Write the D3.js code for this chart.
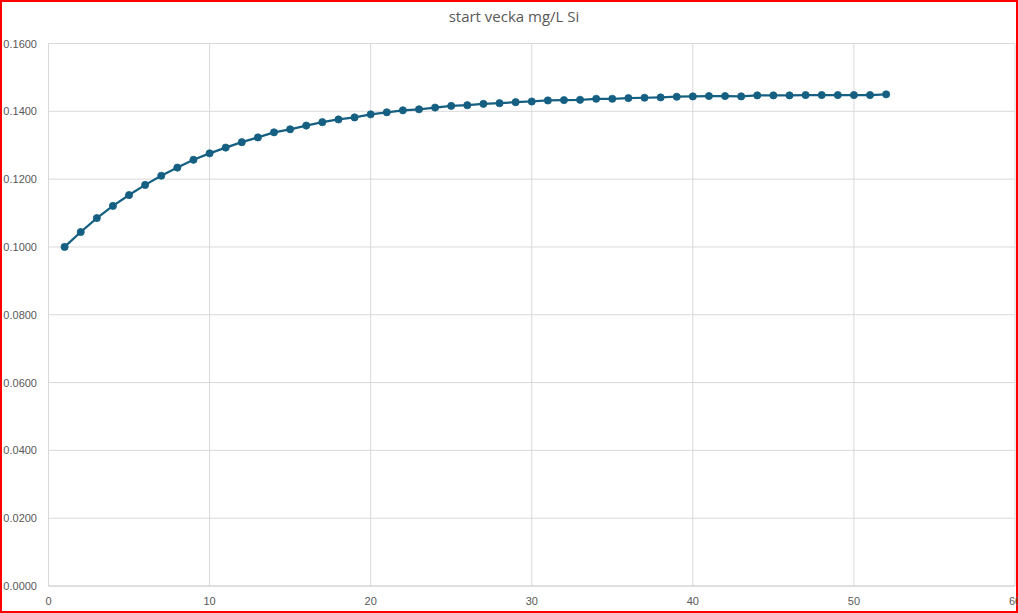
<!DOCTYPE html>
<html><head><meta charset="utf-8">
<script src="https://cdn.jsdelivr.net/npm/d3@7"></script>
<style>body{margin:0;background:#fff;}svg{display:block;font-family:"Liberation Sans Narrow","Liberation Sans",Arial,sans-serif;}</style>
</head><body>
<script>
const title = "start vecka mg/L Si";
const weeks = d3.range(1, 53);
const values = [0.1000,0.1044,0.1085,0.1121,0.1153,0.1183,0.1210,0.1234,0.1257,0.1276,
0.1293,0.1309,0.1323,0.1338,0.1347,0.1358,0.1368,0.1376,0.1382,0.1391,
0.1397,0.1403,0.1406,0.1411,0.1416,0.1418,0.1422,0.1424,0.1427,0.1429,
0.1432,0.1433,0.1434,0.1437,0.1437,0.1439,0.1440,0.1441,0.1443,0.1444,
0.1445,0.1445,0.1444,0.1447,0.1447,0.1447,0.1448,0.1448,0.1448,0.1448,0.1448,0.1450];
const xTicks = [0,10,20,30,40,50,60];
const yTicks = [0,0.02,0.04,0.06,0.08,0.10,0.12,0.14,0.16];

const W = 1018, H = 613;
const m = {l:48.5, r:1015, t:43.5, b:586};
const svg = d3.select("body").append("svg").attr("width",W).attr("height",H);
svg.append("rect").attr("x",1).attr("y",1).attr("width",W-2).attr("height",H-2).attr("fill","#fff").attr("stroke","#ff0000").attr("stroke-width",2);

const x = d3.scaleLinear().domain([0,60]).range([m.l,m.r]);
const y = d3.scaleLinear().domain([0,0.16]).range([m.b,m.t]);

const grid = svg.append("g");
grid.selectAll(".gy").data(yTicks.filter(d=>d>0)).join("line")
  .attr("x1",m.l).attr("x2",m.r).attr("y1",d=>y(d)).attr("y2",d=>y(d))
  .attr("stroke","#d9d9d9").attr("stroke-width",1);
grid.selectAll(".gx").data(xTicks.filter(d=>d>0)).join("line")
  .attr("x1",d=>x(d)).attr("x2",d=>x(d)).attr("y1",m.t).attr("y2",m.b)
  .attr("stroke","#d9d9d9").attr("stroke-width",1);
svg.append("line").attr("x1",m.l).attr("x2",m.l).attr("y1",m.t).attr("y2",m.b).attr("stroke","#d9d9d9");
svg.append("line").attr("x1",m.l).attr("x2",m.r).attr("y1",m.b).attr("y2",m.b).attr("stroke","#bfbfbf").attr("stroke-width",1.2);

svg.selectAll(".yl").data(yTicks).join("text")
  .attr("x",37).attr("y",d=>y(d)+4).attr("text-anchor","end")
  .attr("font-size",11).attr("fill","#595959").text(d=>d.toFixed(4));
svg.selectAll(".xl").data(xTicks).join("text")
  .attr("x",d=>x(d)).attr("y",605).attr("text-anchor","middle")
  .attr("font-size",11).attr("fill","#595959").text(d=>d);

svg.append("text").attr("x",514).attr("y",22).attr("text-anchor","middle")
  .attr("font-size",15).attr("fill","#595959")
  .attr("font-family","'Open Sans','Liberation Sans',sans-serif").text(title);

const data = weeks.map((w,i)=>({w, v:values[i]}));
svg.append("path").datum(data)
  .attr("d", d3.line().x(d=>x(d.w)).y(d=>y(d.v)))
  .attr("fill","none").attr("stroke","#156082").attr("stroke-width",2.25);
svg.selectAll(".pt").data(data).join("circle")
  .attr("cx",d=>x(d.w)).attr("cy",d=>y(d.v)).attr("r",3.6)
  .attr("fill","#156082").attr("stroke","#156082").attr("stroke-width",0.8);
</script>
</body></html>
